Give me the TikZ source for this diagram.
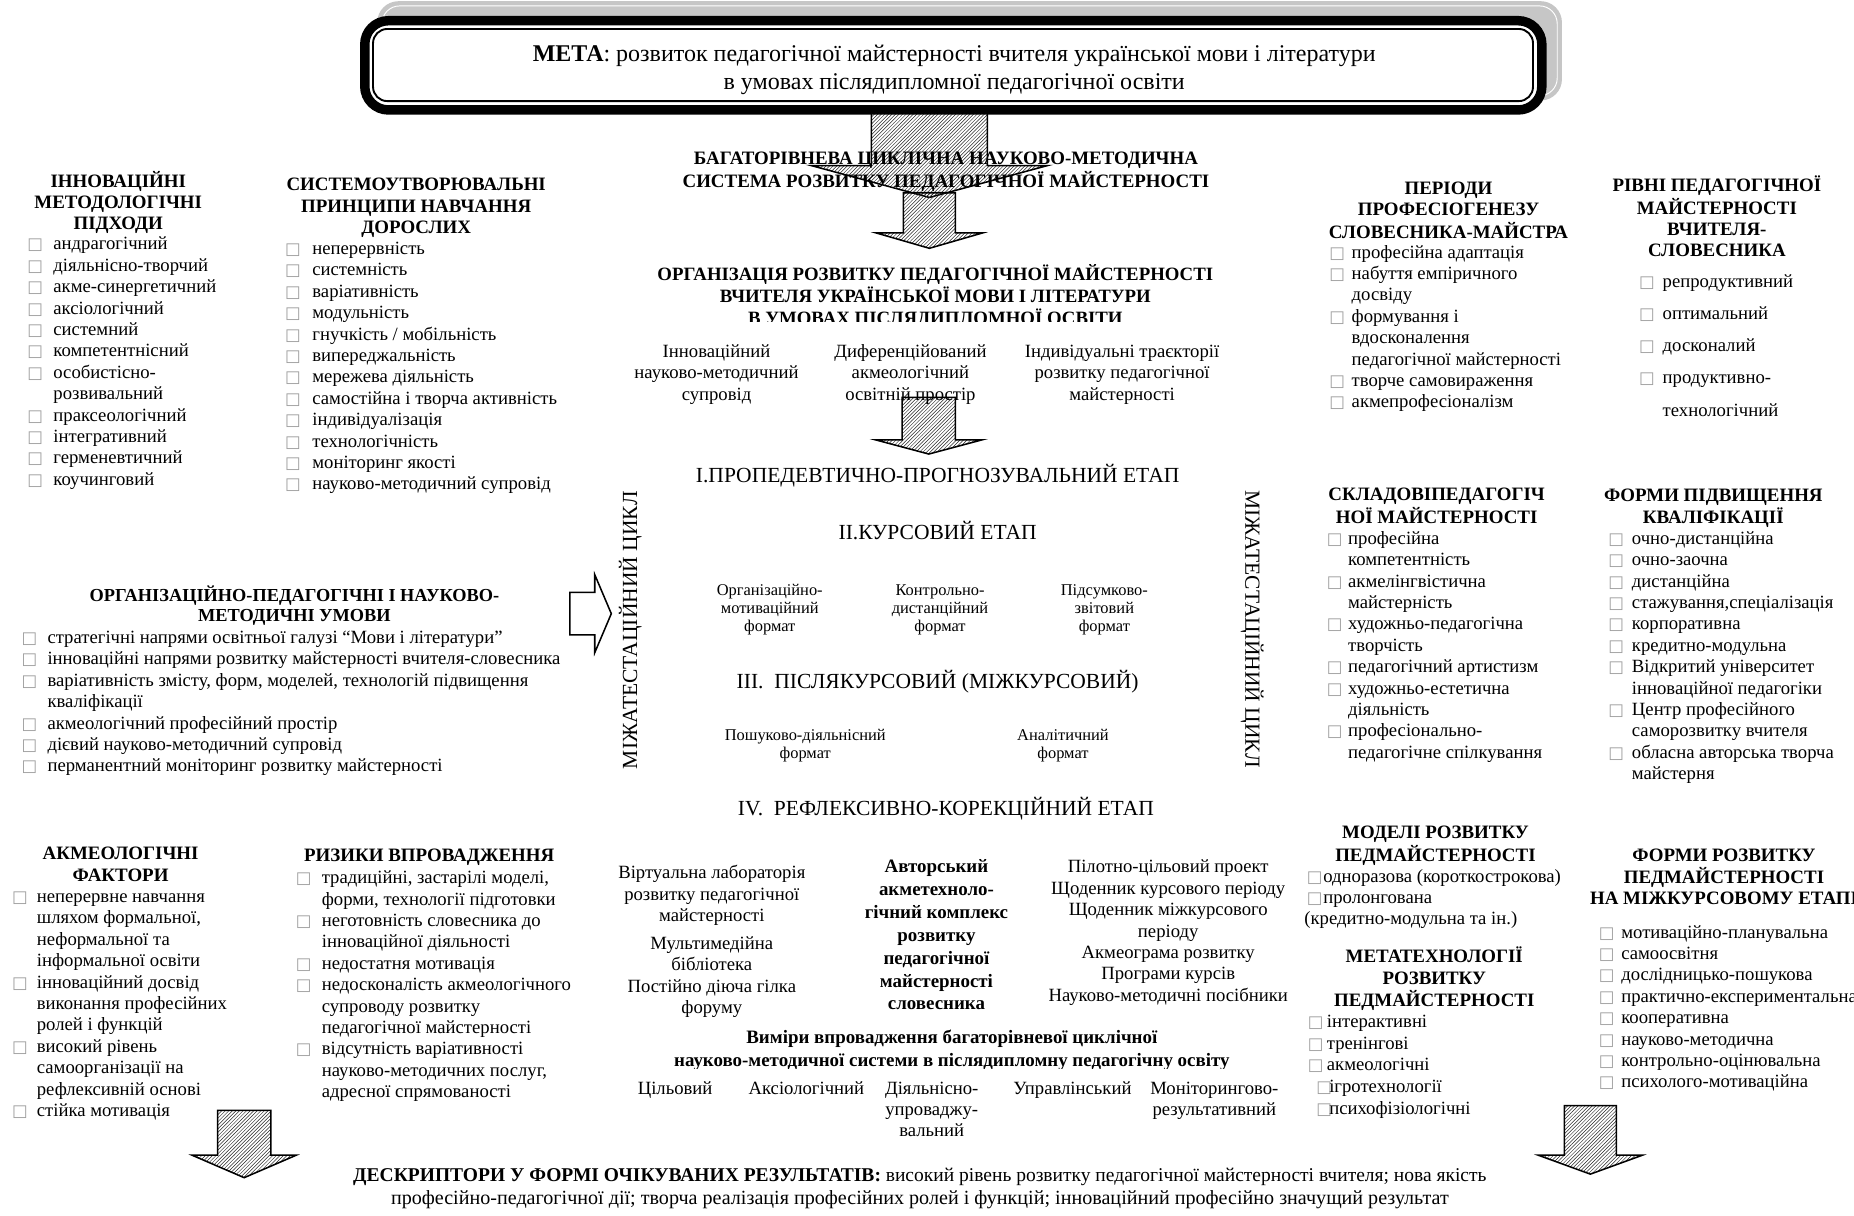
\documentclass[tikz,border=0pt]{standalone}
\usepackage{fontspec}
\setmainfont{Liberation Serif}
\newfontfamily\dejavu{DejaVu Sans}
\usetikzlibrary{patterns}
\definecolor{bxc}{gray}{0.62}
\newcommand\bx{{\dejavu\fontsize{14}{14}\selectfont\textcolor{bxc}{□}}}
\newcommand\fb{\fontsize{15.8}{18.1}\selectfont}
\newcommand\fhd{\bfseries\fontsize{16}{18}\selectfont}
\newcommand\fst{\fontsize{18.2}{20}\selectfont}
\newcommand\fsm{\fontsize{13.9}{15.6}\selectfont}
\newcommand\fti{\fontsize{20.3}{23}\selectfont}
\newcommand\ctab[1]{\begin{tabular}[t]{@{}c@{}}#1\end{tabular}}
\newcommand\btab[2]{\begin{tabular}[t]{@{}p{#1pt}@{}l@{}}#2\end{tabular}}
\newcommand\blockarrow[6]{\draw[hatchst] ({#1-#5},#2) -- ({#1+#5},#2) -- ({#1+#5},#3) -- ({#1+#6},#3) -- (#1,#4) -- ({#1-#6},#3) -- ({#1-#5},#3) -- cycle;}
\begin{document}
\begin{tikzpicture}[x=1pt,y=-1pt,
  txt/.style={inner sep=0pt,anchor=mid,yshift=-4pt,font=\fb},
  lst/.style={inner sep=0pt,anchor=mid west,yshift=-4pt,font=\fb},
  hdg/.style={inner sep=0pt,anchor=mid,yshift=-4pt,font=\fhd},
  stg/.style={inner sep=0pt,anchor=mid,yshift=-4pt,font=\fst},
  vrt/.style={inner sep=0pt,anchor=center,font=\fst},
  sml/.style={inner sep=0pt,anchor=mid,yshift=-4pt,font=\fsm},
  hatchst/.style={draw=black,line width=1.3pt,pattern=north east lines,pattern color=black!85,line join=miter}]
\useasboundingbox (0,0) rectangle (1568,1028);
% title frame
\fill[gray!45, rounded corners=18pt] (319,1) rectangle (1321,85);
\draw[white, line width=0.8pt, rounded corners=15pt] (323,5) rectangle (1317,81);
\blockarrow{786}{95}{140}{167}{49}{100}
\draw[line width=8pt, fill=white, rounded corners=20pt] (308.5,17.5) rectangle (1304,93);
\draw[line width=1.6pt, rounded corners=12pt] (315.5,24.5) rectangle (1296.5,85.5);
\node[txt,font=\fti] (meta) at (807,46) {\ctab{\textbf{МЕТА}: розвиток педагогічної майстерності вчителя української мови і літератури\\в умовах післядипломної педагогічної освіти}};
% central arrows
\blockarrow{786}{163}{197}{210}{22}{45}
\blockarrow{785.5}{336}{372}{384}{22.5}{45}
\blockarrow{206.5}{939}{977}{996}{22.5}{44}
\blockarrow{1345}{935}{977}{993}{22}{44}
\draw[line width=1.3pt, fill=white] (482,501) -- (503,501) -- (503,486) -- (517,519) -- (503,552) -- (503,537) -- (482,537) -- cycle;
% central texts
\node[hdg,font=\bfseries\fontsize{16}{19}\selectfont] (sysh) at (800,133) {\ctab{БАГАТОРІВНЕВА ЦИКЛІЧНА НАУКОВО-МЕТОДИЧНА\\СИСТЕМА РОЗВИТКУ ПЕДАГОГІЧНОЇ МАЙСТЕРНОСТІ}};
\begin{scope}
\clip (500,215) rectangle (1100,271.5);
\node[hdg,font=\bfseries\fontsize{15.9}{17.5}\selectfont] (orgh) at (791,231) {\ctab{ОРГАНІЗАЦІЯ РОЗВИТКУ ПЕДАГОГІЧНОЇ МАЙСТЕРНОСТІ\\ВЧИТЕЛЯ УКРАЇНСЬКОЇ МОВИ І ЛІТЕРАТУРИ\\В УМОВАХ ПІСЛЯДИПЛОМНОЇ ОСВІТИ}};
\end{scope}
\node[txt] (c1) at (606,296) {\ctab{Інноваційний\\науково-методичний\\супровід}};
\node[txt] (c2) at (770,296) {\ctab{Диференційований\\акмеологічний\\освітній простір}};
\node[txt] (c3) at (949,296) {\ctab{Індивідуальні траєкторії\\розвитку педагогічної\\майстерності}};
\node[stg] (s1) at (793,402) {І.ПРОПЕДЕВТИЧНО-ПРОГНОЗУВАЛЬНИЙ ЕТАП};
\node[stg] (s2) at (793,450) {ІІ.КУРСОВИЙ ЕТАП};
\node[sml] (f1) at (651,497) {\ctab{Організаційно-\\мотиваційний\\формат}};
\node[sml] (f2) at (795,497) {\ctab{Контрольно-\\дистанційний\\формат}};
\node[sml] (f3) at (934,497) {\ctab{Підсумково-\\звітовий\\формат}};
\node[stg] (s3) at (793,576) {ІІІ.\ \ ПІСЛЯКУРСОВИЙ (МІЖКУРСОВИЙ)};
\node[sml] (f4) at (681,620) {\ctab{Пошуково-діяльнісний\\формат}};
\node[sml] (f5) at (899,620) {\ctab{Аналітичний\\формат}};
\node[stg] (s4) at (800,683) {IV.\ \ РЕФЛЕКСИВНО-КОРЕКЦІЙНИЙ ЕТАП};
\node[vrt,rotate=90] (cycl) at (533,533) {МІЖАТЕСТАЦІЙНИЙ ЦИКЛ};
\node[vrt,rotate=-90] (cycr) at (1059,532) {МІЖАТЕСТАЦІЙНИЙ ЦИКЛ};
% block A
\node[hdg] (ah) at (100,152) {\ctab{ІННОВАЦІЙНІ\\МЕТОДОЛОГІЧНІ\\ПІДХОДИ}};
\node[lst] (al) at (23,205) {\btab{22}{\bx&андрагогічний\\\bx&діяльнісно-творчий\\\bx&акме-синергетичний\\\bx&аксіологічний\\\bx&системний\\\bx&компетентнісний\\\bx&особистісно-\\&розвивальний\\\bx&праксеологічний\\\bx&інтегративний\\\bx&герменевтичний\\\bx&коучинговий}};
% block B
\node[hdg] (bh) at (352,155) {\ctab{СИСТЕМОУТВОРЮВАЛЬНІ\\ПРИНЦИПИ НАВЧАННЯ\\ДОРОСЛИХ}};
\node[lst] (bl) at (241,209) {\btab{23}{\bx&неперервність\\\bx&системність\\\bx&варіативність\\\bx&модульність\\\bx&гнучкість / мобільність\\\bx&випереджальність\\\bx&мережева діяльність\\\bx&самостійна і творча активність\\\bx&індивідуалізація\\\bx&технологічність\\\bx&моніторинг якості\\\bx&науково-методичний супровід}};
% conditions
\node[hdg,font=\bfseries\fontsize{15.5}{17}\selectfont] (oh) at (249,502) {\ctab{ОРГАНІЗАЦІЙНО-ПЕДАГОГІЧНІ І НАУКОВО-\\МЕТОДИЧНІ УМОВИ}};
\node[lst] (ol) at (18,538) {\btab{22}{\bx&стратегічні напрями освітньої галузі “Мови і літератури”\\\bx&інноваційні напрями розвитку майстерності вчителя-словесника\\\bx&варіативність змісту, форм, моделей, технологій підвищення\\&кваліфікації\\\bx&акмеологічний професійний простір\\\bx&дієвий науково-методичний супровід\\\bx&перманентний моніторинг розвитку майстерності}};
% periods
\node[hdg] (ph) at (1225,158) {\ctab{ПЕРІОДИ\\ПРОФЕСІОГЕНЕЗУ\\СЛОВЕСНИКА-МАЙСТРА}};
\node[lst] (pl) at (1124,212) {\btab{19}{\bx&професійна адаптація\\\bx&набуття емпіричного\\&досвіду\\\bx&формування і\\&вдосконалення\\&педагогічної майстерності\\\bx&творче самовираження\\\bx&акмепрофесіоналізм}};
% levels
\node[hdg] (rh) at (1452,156) {\ctab{РІВНІ ПЕДАГОГІЧНОЇ\\МАЙСТЕРНОСТІ\\ВЧИТЕЛЯ-\\СЛОВЕСНИКА}};
\node[lst] (rl) at (1386,237) {\renewcommand\arraystretch{1.5}\btab{20}{\bx&репродуктивний\\\bx&оптимальний\\\bx&досконалий\\\bx&продуктивно-\\&технологічний}};
% components
\node[hdg] (kh) at (1215,417) {\ctab{СКЛАДОВІПЕДАГОГІЧ\\НОЇ МАЙСТЕРНОСТІ}};
\node[lst] (kl) at (1122,454) {\btab{18}{\bx&професійна\\&компетентність\\\bx&акмелінгвістична\\&майстерність\\\bx&художньо-педагогічна\\&творчість\\\bx&педагогічний артистизм\\\bx&художньо-естетична\\&діяльність\\\bx&професіонально-\\&педагогічне спілкування}};
% forms of qualification
\node[hdg] (qh) at (1449,418) {\ctab{ФОРМИ ПІДВИЩЕННЯ\\КВАЛІФІКАЦІЇ}};
\node[lst] (ql) at (1360,454) {\btab{20}{\bx&очно-дистанційна\\\bx&очно-заочна\\\bx&дистанційна\\\bx&стажування,спеціалізація\\\bx&корпоративна\\\bx&кредитно-модульна\\\bx&Відкритий університет\\&інноваційної педагогіки\\\bx&Центр професійного\\&саморозвитку вчителя\\\bx&обласна авторська творча\\&майстерня}};
% acmeological factors
\node[hdg] (fh) at (102,721) {\ctab{АКМЕОЛОГІЧНІ\\ФАКТОРИ}};
\node[lst] (fl) at (10,757) {\btab{21}{\bx&неперервне навчання\\&шляхом формальної,\\&неформальної та\\&інформальної освіти\\\bx&інноваційний досвід\\&виконання професійних\\&ролей і функцій\\\bx&високий рівень\\&самоорганізації на\\&рефлексивній основі\\\bx&стійка мотивація}};
% risks
\node[hdg] (zh) at (363,722) {РИЗИКИ ВПРОВАДЖЕННЯ};
\node[lst] (zl) at (250,741) {\btab{22}{\bx&традиційні, застарілі моделі,\\&форми, технології підготовки\\\bx&неготовність словесника до\\&інноваційної діяльності\\\bx&недостатня мотивація\\\bx&недосконалість акмеологічного\\&супроводу розвитку\\&педагогічної майстерності\\\bx&відсутність варіативності\\&науково-методичних послуг,\\&адресної спрямованості}};
% complex
\node[txt] (v1) at (602,737) {\ctab{Віртуальна лабораторія\\розвитку педагогічної\\майстерності}};
\node[txt,font=\fontsize{15.8}{17.5}\selectfont] (v2) at (602,797) {\ctab{Мультимедійна\\бібліотека}};
\node[txt] (v3) at (602,833) {\ctab{Постійно діюча гілка\\форуму}};
\node[txt,font=\bfseries\fontsize{16}{19.3}\selectfont] (auth) at (792,732) {\ctab{Авторський\\акметехноло-\\гічний комплекс\\розвитку\\педагогічної\\майстерності\\словесника}};
\node[txt] (tools) at (988,732) {\ctab{Пілотно-цільовий проект\\Щоденник курсового періоду\\Щоденник міжкурсового\\періоду\\Акмеограма розвитку\\Програми курсів\\Науково-методичні посібники}};
\begin{scope}
\clip (500,860) rectangle (1100,904);
\node[txt,font=\bfseries\fontsize{16}{20}\selectfont] (dimh) at (805,876) {\ctab{Виміри впровадження багаторівневої циклічної\\науково-методичної системи в післядипломну педагогічну освіту}};
\end{scope}
\node[txt] (d1) at (571,919) {Цільовий};
\node[txt] (d2) at (682,919) {Аксіологічний};
\node[txt] (d3) at (788,919) {\ctab{Діяльнісно-\\упроваджу-\\вальний}};
\node[txt] (d4) at (907,919) {Управлінський};
\node[txt] (d5) at (1027,919) {\ctab{Моніторингово-\\результативний}};
% models
\node[hdg] (mh) at (1214,703) {\ctab{МОДЕЛІ РОЗВИТКУ\\ПЕДМАЙСТЕРНОСТІ}};
\node[lst] (ml) at (1105,740) {\btab{14}{\bx&одноразова (короткострокова)\\\bx&пролонгована}};
\node[lst] (ml2) at (1103,776) {(кредитно-модульна та ін.)};
\node[hdg] (th) at (1213,808) {\ctab{МЕТАТЕХНОЛОГІЇ\\РОЗВИТКУ\\ПЕДМАЙСТЕРНОСТІ}};
\node[lst] (tl) at (1106,863) {\btab{16}{\bx&інтерактивні\\\bx&тренінгові\\\bx&акмеологічні}};
\node[lst] (tl2) at (1113,918) {\btab{11}{\bx&ігротехнології\\\bx&психофізіологічні}};
% forms of development
\node[hdg] (wh) at (1458,722) {\ctab{ФОРМИ РОЗВИТКУ\\ПЕДМАЙСТЕРНОСТІ\\НА МІЖКУРСОВОМУ ЕТАПІ}};
\node[lst] (wl) at (1352,787) {\btab{19}{\bx&мотиваційно-планувальна\\\bx&самоосвітня\\\bx&дослідницько-пошукова\\\bx&практично-експериментальна\\\bx&кооперативна\\\bx&науково-методична\\\bx&контрольно-оцінювальна\\\bx&психолого-мотиваційна}};
% descriptors
\node[txt,font=\fontsize{16.5}{19}\selectfont] (desc) at (778,993) {\ctab{\textbf{ДЕСКРИПТОРИ У ФОРМІ ОЧІКУВАНИХ РЕЗУЛЬТАТІВ:} високий рівень розвитку педагогічної майстерності вчителя; нова якість\\{\fontsize{17}{19}\selectfont професійно-педагогічної дії; творча реалізація професійних ролей і функцій; інноваційний професійно значущий результат}}};
\end{tikzpicture}
\end{document}
